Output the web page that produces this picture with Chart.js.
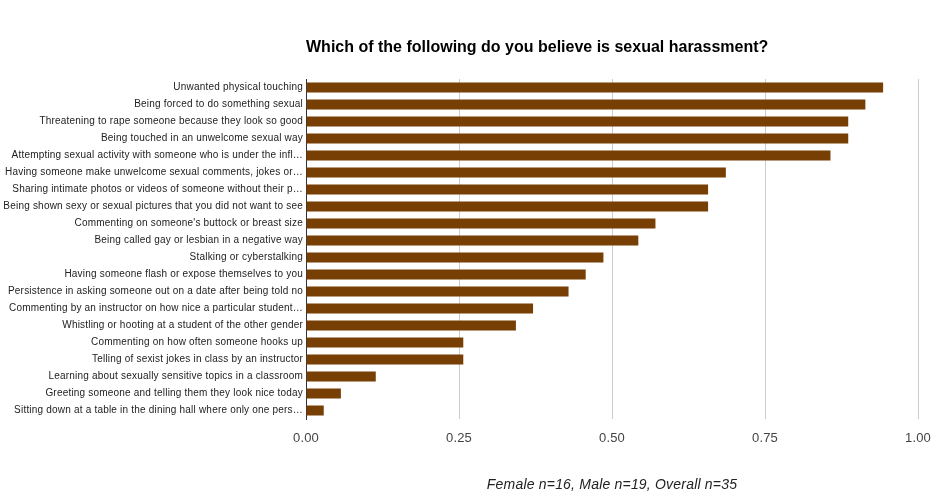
<!DOCTYPE html>
<html>
<head>
<meta charset="utf-8">
<script src="https://cdn.jsdelivr.net/npm/chart.js@4"></script>
<style>
  body { margin: 0; background: #fff; }
  #wrap { width: 950px; height: 499px; }
</style>
</head>
<body>
<div id="wrap"><canvas id="myChart" width="950" height="499"></canvas></div>
<script>
const titulo = 'Which of the following do you believe is sexual harassment?'
const rodape = 'Female n=16, Male n=19, Overall n=35'

const categorias = [
    'Unwanted physical touching',
    'Being forced to do something sexual',
    'Threatening to rape someone because they look so good',
    'Being touched in an unwelcome sexual way',
    'Attempting sexual activity with someone who is under the infl\u2026',
    'Having someone make unwelcome sexual comments, jokes or\u2026',
    'Sharing intimate photos or videos of someone without their p\u2026',
    'Being shown sexy or sexual pictures that you did not want to see',
    "Commenting on someone's buttock or breast size",
    'Being called gay or lesbian in a negative way',
    'Stalking or cyberstalking',
    'Having someone flash or expose themselves to you',
    'Persistence in asking someone out on a date after being told no',
    'Commenting by an instructor on how nice a particular student\u2026',
    'Whistling or hooting at a student of the other gender',
    'Commenting on how often someone hooks up',
    'Telling of sexist jokes in class by an instructor',
    'Learning about sexually sensitive topics in a classroom',
    'Greeting someone and telling them they look nice today',
    'Sitting down at a table in the dining hall where only one pers\u2026'
]

const valores = [0.943, 0.914, 0.886, 0.886, 0.857, 0.686, 0.657, 0.657, 0.571, 0.543,
                 0.486, 0.457, 0.429, 0.371, 0.343, 0.257, 0.257, 0.114, 0.057, 0.029]

const ticksX = [0, 0.25, 0.5, 0.75, 1]

const cor = '#783f04'
const fonte = "'Liberation Sans', Arial, sans-serif"

// espacamento entre letras dos rotulos (o original e um pouco mais largo)
// e titulo alinhado com a borda esquerda da area do grafico
const tituloPlugin = {
    id: 'tituloEsquerda',
    beforeDraw(chart) {
        chart.ctx.letterSpacing = '0.2px'
    },
    afterDraw(chart) {
        const ctx = chart.ctx
        ctx.save()
        ctx.letterSpacing = '0px'
        ctx.font = 'bold 16px ' + fonte
        ctx.fillStyle = '#000'
        ctx.textAlign = 'left'
        ctx.textBaseline = 'middle'
        ctx.fillText(titulo, chart.chartArea.left, 48)
        ctx.restore()
    }
}

const ctx = document.getElementById('myChart')

new Chart(ctx, {
    type: 'bar',
    data: {
        labels: categorias,
        datasets: [{
            data: valores,
            backgroundColor: cor,
            borderColor: cor,
            borderWidth: 0,
            categoryPercentage: 1,
            barPercentage: 10 / 17
        }]
    },
    options: {
        indexAxis: 'y',
        responsive: false,
        animation: false,
        devicePixelRatio: 1,
        layout: {
            padding: { top: 79, right: 32, left: 0, bottom: 0 }
        },
        scales: {
            x: {
                min: 0,
                max: 1,
                afterBuildTicks(scale) {
                    scale.ticks = ticksX.map(v => ({ value: v }))
                },
                afterFit(scale) {
                    scale.height = 80
                },
                border: { display: false },
                grid: {
                    drawTicks: false,
                    color: c => c.tick && c.tick.value === 0 ? 'rgba(0,0,0,0)' : '#cccccc',
                    lineWidth: 1
                },
                ticks: {
                    padding: 12,
                    color: '#444',
                    font: { family: fonte, size: 13 },
                    callback: v => Number(v).toFixed(2)
                },
                title: {
                    display: true,
                    text: rodape,
                    color: '#222',
                    font: { family: fonte, size: 14, style: 'italic' },
                    padding: { top: 0, bottom: 5 }
                }
            },
            y: {
                afterFit(scale) {
                    scale.width = 306
                },
                border: { display: true, color: '#333', width: 1 },
                grid: { display: false, drawTicks: false },
                ticks: {
                    padding: 3,
                    color: '#222',
                    autoSkip: false,
                    font: { family: fonte, size: 10 }
                }
            }
        },
        plugins: {
            legend: { display: false },
            title: { display: false },
            tooltip: { enabled: false }
        }
    },
    plugins: [tituloPlugin]
});
</script>
</body>
</html>
